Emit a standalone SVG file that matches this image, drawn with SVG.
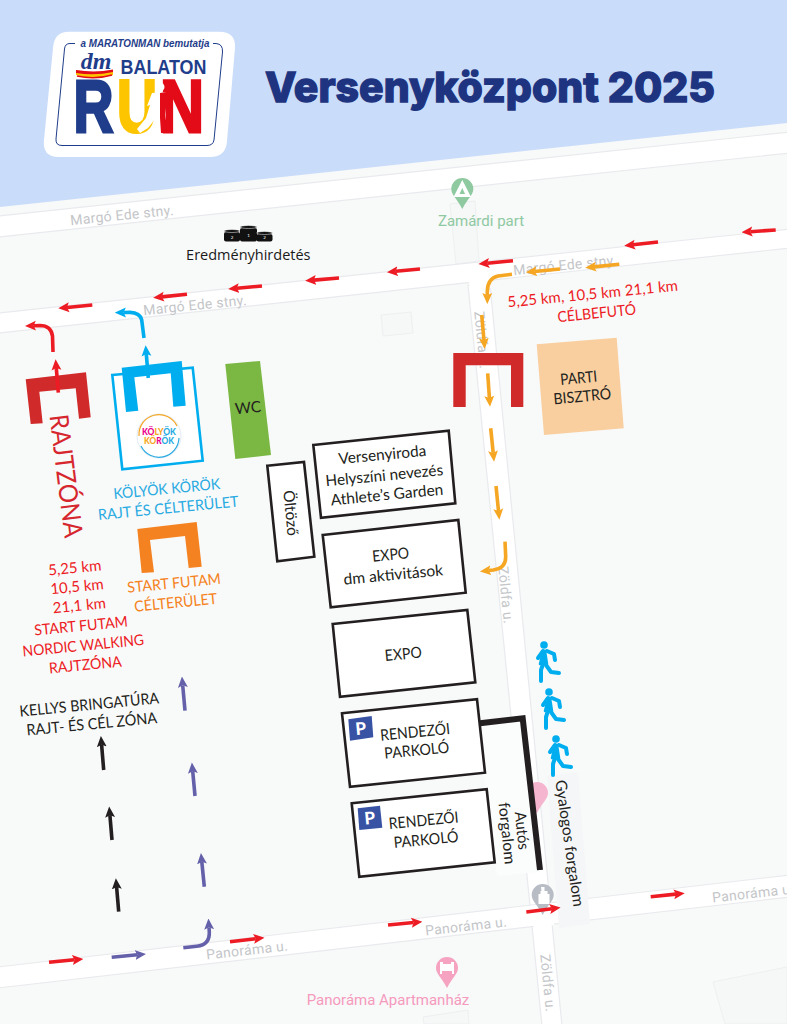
<svg xmlns="http://www.w3.org/2000/svg" width="787" height="1024" viewBox="0 0 787 1024">
<style>
text{font-family:"Lato","Open Sans","Liberation Sans",sans-serif;text-anchor:middle}
.t{font-size:15.5px;fill:#231f20}
.rd{font-size:15px;fill:#ed1c24}
.bl{font-size:15px;fill:#29abe2}
.or{font-size:15px;fill:#f58220}
.map{font-family:"Roboto","Liberation Sans",sans-serif;font-size:14px;fill:#c4c6c9;letter-spacing:.3px}
.road{fill:#fff;stroke:#e9eaed;stroke-width:1.2}
.bld{fill:#f6f7f7;stroke:#eeeff0;stroke-width:1}
.box{fill:#fff;stroke:#231f20;stroke-width:2.6}
.arw{fill:none;stroke-width:3.6}
.red{stroke:#ed1c24}.org{stroke:#f5a623}.pur{stroke:#6460aa}.blk{stroke:#231f20}.sky{stroke:#00aeef}
.m{fill:none;stroke:#00aeef;stroke-width:4;stroke-linecap:round;stroke-linejoin:round}
.lg{font-family:"Liberation Sans",sans-serif;font-weight:700}
</style>
<defs>
<marker id="hr" viewBox="0 -5 10 10" refX="2" refY="0" markerUnits="userSpaceOnUse" markerWidth="11" markerHeight="11" orient="auto"><path d="M0,-4.5L10,0L0,4.5L2,0z" fill="#ed1c24"/></marker>
<marker id="ho" viewBox="0 -5 10 10" refX="2" refY="0" markerUnits="userSpaceOnUse" markerWidth="11" markerHeight="11" orient="auto"><path d="M0,-4.5L10,0L0,4.5L2,0z" fill="#f5a623"/></marker>
<marker id="hp" viewBox="0 -5 10 10" refX="2" refY="0" markerUnits="userSpaceOnUse" markerWidth="11" markerHeight="11" orient="auto"><path d="M0,-4.5L10,0L0,4.5L2,0z" fill="#6460aa"/></marker>
<marker id="hk" viewBox="0 -5 10 10" refX="2" refY="0" markerUnits="userSpaceOnUse" markerWidth="11" markerHeight="11" orient="auto"><path d="M0,-4.5L10,0L0,4.5L2,0z" fill="#231f20"/></marker>
<marker id="hs" viewBox="0 -5 10 10" refX="2" refY="0" markerUnits="userSpaceOnUse" markerWidth="11" markerHeight="11" orient="auto"><path d="M0,-4.5L10,0L0,4.5L2,0z" fill="#00aeef"/></marker>
<g id="runner">
<circle cx="-4" cy="-16" r="3.8" fill="#00aeef"/>
<path d="M-5,-10L-3,-10L-1,3L-8,3z" fill="#00aeef" stroke="#00aeef" stroke-width="2.5" stroke-linejoin="round"/>
<path class="m" d="M-5,-10L-10,-3"/>
<path class="m" d="M-1,-10L6,-7L7,-1"/>
<path class="m" d="M-5,3L-7,9L-7,20"/>
<path class="m" d="M-2,4L3,11L11,12"/>
</g>
<path id="pin" d="M-11,-9a11,11 0 1 1 22,0c0,6 -6,10 -11,20c-5,-10 -11,-14 -11,-20z"/>
</defs>

<rect width="787" height="1024" fill="#f8f9f9"/>
<polygon points="0,0 787,0 787,123 0,207" fill="#c9dcf9"/>

<g id="map-base">
<polygon class="bld" points="450,204 475,201 479,261 456,264"/>
<polygon class="bld" points="381,315 411,312 413,333 383,336"/>
<polygon class="bld" points="713,982 787,967 787,1024 725,1024"/>
<polygon class="bld" points="423,1017 468,1010 469,1024 424,1024"/>
<polygon class="road" points="-2,216 790,132 790,153 -2,237"/>
<polygon class="road" points="-2,313 790,229 790,248 -2,333"/>
<polygon class="road" points="468,285 490,285 562,1026 542,1026"/>
<polygon class="road" points="-2,967 790,875 790,897 -2,988"/>
<polygon points="469,280 489,278 491,288 470,290" fill="#fff"/>
<polygon points="530,906 551,903.500 554,925 534,928" fill="#fff"/>
<use href="#pin" transform="translate(537 802)" fill="#f6b5cf"/>
<polygon points="477,725 522,720 540,872 497,876" fill="#fbfcfc"/>
<polygon points="547,776 578,772 590,924 559,928" fill="#f5f6f8"/>
<text class="map" transform="translate(122 215) rotate(-5.7)" y="5">Margó Ede stny.</text>
<text class="map" transform="translate(195 305) rotate(-5.7)" y="5">Margó Ede stny.</text>
<text class="map" transform="translate(565 265) rotate(-5.7)" y="5">Margó Ede stny.</text>
<text class="map" transform="translate(247 950) rotate(-6.5)" y="5">Panoráma u.</text>
<text class="map" transform="translate(466 926) rotate(-6.5)" y="5">Panoráma u.</text>
<text class="map" transform="translate(753 893) rotate(-6.5)" y="5">Panoráma u.</text>
<text class="map" transform="translate(482 340) rotate(84.3)" y="5">Zöldfa u.</text>
<text class="map" transform="translate(506 595) rotate(84.3)" y="5">Zöldfa u.</text>
<text class="map" transform="translate(548 983) rotate(84.3)" y="5">Zöldfa u.</text>
<use href="#pin" transform="translate(462.3 198)" fill="#8ec9a0"/>
<polygon points="462.3,180 471,197 453.5,197" fill="#fff"/>
<polygon points="462.3,188 465,194 459.5,194" fill="#8ec9a0"/>
<text x="481" y="226" style="font-family:'Roboto','Liberation Sans',sans-serif;font-size:15px;fill:#8fc9a2">Zamárdi part</text>
<use href="#pin" transform="translate(447 977)" fill="#f6a3c2"/>
<path d="M440,962h3v2h8v-2h3v12h-2v-3h-10v3h-2z" fill="#fff"/>
<text x="388" y="1005" style="font-family:'Roboto','Liberation Sans',sans-serif;font-size:15px;fill:#f59abd">Panoráma Apartmanház</text>
<use href="#pin" transform="translate(542.7 904)" fill="#b8bcc4"/>
<path d="M541,887h3.5v4h3v3h2v10h-11v-10h2v-3h1z" fill="#fff"/>
</g>

<g id="logo">
<path d="M69,31.700H219Q236,31.700 235,48L227,141Q226,157 210,157H59Q42,157 44,140L53,48Q54,31.700 69,31.700z" fill="#fff"/>
<path d="M75,43.500H70Q65,43.500 64.500,49L56,139Q55.500,145.500 62,145.500H207Q213,145.500 214,140L222.500,52Q223,44 216,43.500H213" fill="none" stroke="#1f3d8a" stroke-width="1"/>
<text class="lg" x="145" y="46.500" font-size="10.500" font-style="italic" fill="#1f3d8a" textLength="129" lengthAdjust="spacingAndGlyphs">a MARATONMAN bemutatja</text>
<text x="96" y="69" font-size="24" font-style="italic" font-weight="700" fill="#1f3d8a" style="font-family:'Liberation Serif',serif">dm</text>
<text class="lg" x="163.500" y="74" font-size="20" fill="#1f3d8a" textLength="86" lengthAdjust="spacingAndGlyphs">BALATON</text>
<path d="M76,70Q95,76 113,70V75Q95,81 76,75z" fill="#fdc500"/>
<path d="M76,70Q95,73 113,69.500V72Q95,76 76,73z" fill="#e30b17"/>
<path d="M77,76Q95,80 112,75" fill="none" stroke="#e30b17" stroke-width="1.500"/>
<text class="lg" x="93.500" y="132" font-size="74" fill="#1f3d8a" stroke="#1f3d8a" stroke-width="3" textLength="40" lengthAdjust="spacingAndGlyphs">R</text>
<text class="lg" x="137" y="132" font-size="74" fill="#fdc500" stroke="#fdc500" stroke-width="3" textLength="40" lengthAdjust="spacingAndGlyphs">U</text>
<text class="lg" x="182" y="132" font-size="74" fill="#e30b17" stroke="#e30b17" stroke-width="3" textLength="44" lengthAdjust="spacingAndGlyphs">N</text>
<circle cx="160" cy="87" r="4.500" fill="#fff"/>
<path d="M152,93L166,92L166,114L163,133L157,133L156,118L148,128L140,133L137,129L146,118L150,105L147,106z" fill="#fff"/>
<path d="M160,93L166,92L170,104L166,108L165,120L167,133L161,133L160,118z" fill="#e30b17"/>
</g>

<text id="title" x="265" y="102" font-size="41" font-weight="800" fill="#1e3480" stroke="#1e3480" stroke-width="1.300" textLength="450" lengthAdjust="spacingAndGlyphs" style="font-family:'Inter','Liberation Sans',sans-serif;text-anchor:start">Versenyközpont 2025</text>

<g id="eredmeny">
<rect x="224" y="232" width="16" height="9.500" rx="2" fill="#111"/>
<rect x="256.500" y="234" width="16" height="7.500" rx="2" fill="#111"/>
<rect x="240" y="228" width="17" height="13.500" rx="2" fill="#111"/>
<ellipse cx="232" cy="231" rx="8" ry="1.500" fill="#111" stroke="#fff" stroke-width=".5"/>
<ellipse cx="248.500" cy="227" rx="8.500" ry="1.500" fill="#111" stroke="#fff" stroke-width=".5"/>
<ellipse cx="264.500" cy="233" rx="8" ry="1.500" fill="#111" stroke="#fff" stroke-width=".5"/>
<text x="232" y="239" font-size="4.500" fill="#fff">2</text>
<text x="248.500" y="237" font-size="4.500" fill="#fff">1</text>
<text x="264.500" y="239" font-size="4.500" fill="#fff">2</text>
<text x="248.300" y="259.500" style="font-family:'Open Sans','Liberation Sans',sans-serif;font-size:14.500px;fill:#1a1a1a">Eredményhirdetés</text>
</g>

<g id="connectors">
<path class="arw red" marker-end="url(#hr)" d="M775.700,230L750.300,231.700"/>
<path class="arw red" marker-end="url(#hr)" d="M658,242L632.900,244.800"/>
<path class="arw red" marker-end="url(#hr)" d="M513,260.700L487.200,263.200"/>
<path class="arw red" marker-end="url(#hr)" d="M420,269L395.700,271.300"/>
<path class="arw red" marker-end="url(#hr)" d="M339,278L313.900,280.100"/>
<path class="arw red" marker-end="url(#hr)" d="M262,286L236.900,288.300"/>
<path class="arw red" marker-end="url(#hr)" d="M187,294.300L161.900,296.900"/>
<path class="arw red" marker-end="url(#hr)" d="M92.300,305L67,307.500"/>
<path class="arw red" marker-end="url(#hr)" d="M49,962.300L74.600,959.800"/>
<path class="arw red" marker-end="url(#hr)" d="M230,941.700L255.800,938.700"/>
<path class="arw red" marker-end="url(#hr)" d="M388,925L413.600,922.500"/>
<path class="arw red" marker-end="url(#hr)" d="M526.300,912L551.900,908.700"/>
<path class="arw red" marker-end="url(#hr)" d="M650.700,896.700L676,894.100"/>
<path class="arw red" marker-end="url(#hr)" d="M53,352L52.500,336Q51,325.500 40,325.500L33.700,325.700"/>
<path class="arw org" marker-end="url(#ho)" d="M619.300,264.300L594,266.900"/>
<path class="arw org" marker-end="url(#ho)" d="M560,269L534.700,271.500"/>
<path class="arw org" marker-end="url(#ho)" d="M512,274.300L498.300,276Q487.300,278.300 487.300,291.700L487.300,295.300"/>
<path class="arw org" marker-end="url(#ho)" d="M481.700,315L484,340.300"/>
<path class="arw org" marker-end="url(#ho)" d="M487.700,373.300L489.400,398"/>
<path class="arw org" marker-end="url(#ho)" d="M490.700,428.300L493.200,452.900"/>
<path class="arw org" marker-end="url(#ho)" d="M496,486L498.500,511"/>
<path class="arw org" marker-end="url(#ho)" d="M505,541.700L505.700,556.700Q506,568.300 493.300,570L488.700,570.500"/>
<path class="arw pur" marker-end="url(#hp)" d="M185,710.700L182.700,685.300"/>
<path class="arw pur" marker-end="url(#hp)" d="M195,796L192.700,771.200"/>
<path class="arw pur" marker-end="url(#hp)" d="M204.300,886.700L201.800,861.800"/>
<path class="arw pur" marker-end="url(#hp)" d="M111.700,957.300L137.300,954.800"/>
<path class="arw pur" marker-end="url(#hp)" d="M183.300,947.700L196.700,946.300Q210,945 209.300,931.700L209,927.300"/>
<path class="arw blk" marker-end="url(#hk)" d="M103.700,770L101.600,744.700"/>
<path class="arw blk" marker-end="url(#hk)" d="M112,840L109.900,815.200"/>
<path class="arw blk" marker-end="url(#hk)" d="M118.700,911.700L116.600,886.900"/>
<path class="arw sky" marker-end="url(#hs)" d="M144,338L141.700,320Q140,312.700 130,312.400L123.700,312.500"/>
<path d="M480,723.300L522.700,718.300L540,870" fill="none" stroke="#231f20" stroke-width="6"/>
</g>

<g id="rajtzona">
<polygon points="25.700,379.300 86,372.300 90.700,417.300 79,418.700 75.700,388.300 39.300,391.700 42.700,423.300 30.700,424" fill="#d12a2a"/>
<path class="arw red" marker-end="url(#hr)" d="M58.300,392.700L56.300,368"/>
<text transform="translate(66 476) rotate(83)" y="9" font-size="26" fill="#d6262e" textLength="124" lengthAdjust="spacingAndGlyphs">RAJTZÓNA</text>
<text class="rd" transform="translate(74.700 568) rotate(-5.500)" y="5">5,25 km</text>
<text class="rd" transform="translate(77 586.700) rotate(-5.500)" y="5">10,5 km</text>
<text class="rd" transform="translate(79.300 605.700) rotate(-5.500)" y="5">21,1 km</text>
<text class="rd" transform="translate(81 626) rotate(-5.500)" y="5" textLength="94" lengthAdjust="spacingAndGlyphs">START FUTAM</text>
<text class="rd" transform="translate(83.300 645.700) rotate(-5.500)" y="5" textLength="122" lengthAdjust="spacingAndGlyphs">NORDIC WALKING</text>
<text class="rd" transform="translate(85.300 665) rotate(-5.500)" y="5" textLength="73" lengthAdjust="spacingAndGlyphs">RAJTZÓNA</text>
</g>

<g id="kolyok-korok">
<polygon points="112.300,375 192.700,367.700 202.700,460.700 122.300,469.300" fill="#fff" stroke="#00aeef" stroke-width="2.600"/>
<polygon points="121.700,367.700 181.700,361 185.700,405.700 173.300,406.700 170.700,373.300 134.300,377.300 138.300,410.700 126,412" fill="#00aeef"/>
<path class="arw sky" marker-end="url(#hs)" d="M148.300,378L146.300,354"/>
<circle cx="159" cy="436" r="22" fill="#fff" stroke="#d9e6ef" stroke-width=".8"/>
<path d="M139,436A20,20 0 0 1 177,426" fill="none" stroke="#f5a623" stroke-width="1.200"/>
<path d="M141,446A20,20 0 0 0 179,438" fill="none" stroke="#29abe2" stroke-width="1.200"/>
<text x="159" y="435" font-size="8.500" font-weight="900" textLength="34" lengthAdjust="spacingAndGlyphs"><tspan fill="#ec008c">KÖ</tspan><tspan fill="#f5a623">LY</tspan><tspan fill="#29abe2">ÖK</tspan></text>
<text x="159" y="444" font-size="8.500" font-weight="900" textLength="30" lengthAdjust="spacingAndGlyphs"><tspan fill="#f5a623">KÖ</tspan><tspan fill="#ec008c">R</tspan><tspan fill="#29abe2">ÖK</tspan></text>
<text class="bl" transform="translate(166.700 489) rotate(-5.500)" y="5" textLength="107" lengthAdjust="spacingAndGlyphs">KÖLYÖK KÖRÖK</text>
<text class="bl" transform="translate(168.300 508.300) rotate(-5.500)" y="5" textLength="141" lengthAdjust="spacingAndGlyphs">RAJT ÉS CÉLTERÜLET</text>
</g>

<g id="start-futam">
<polygon points="137.300,529 196.700,522 201.700,566.700 188.700,568 185,536 150,540 154,572.300 141.700,573" fill="#f58220"/>
<text class="or" transform="translate(174 583.300) rotate(-5.500)" y="5" textLength="94" lengthAdjust="spacingAndGlyphs">START FUTAM</text>
<text class="or" transform="translate(175.700 602.700) rotate(-5.500)" y="5" textLength="83" lengthAdjust="spacingAndGlyphs">CÉLTERÜLET</text>
</g>

<g id="kellys">
<text class="t" transform="translate(89.300 705) rotate(-5.500)" y="5" textLength="140" lengthAdjust="spacingAndGlyphs">KELLYS BRINGATÚRA</text>
<text class="t" transform="translate(91.700 724.300) rotate(-5.500)" y="5" textLength="131" lengthAdjust="spacingAndGlyphs">RAJT- ÉS CÉL ZÓNA</text>
</g>

<g id="wc">
<polygon points="225.300,364 260,361 271,455 235.300,459" fill="#7ab843"/>
<text class="t" transform="translate(248 408) rotate(-5.500)" y="5">WC</text>
</g>

<g id="oltozo">
<polygon class="box" points="267.300,465.700 304,462 314.300,556.700 277.300,561.300"/>
<text class="t" transform="translate(290.500 513) rotate(84.500)" y="5">Öltöző</text>
</g>

<g id="versenyiroda">
<polygon class="box" points="313.300,445 448.700,430.700 455.300,503.300 321,517.700"/>
<text class="t" transform="translate(382.300 455) rotate(-5.500)" y="5" textLength="88" lengthAdjust="spacingAndGlyphs">Versenyiroda</text>
<text class="t" transform="translate(384.300 475.700) rotate(-5.500)" y="5" textLength="118" lengthAdjust="spacingAndGlyphs">Helyszíni nevezés</text>
<text class="t" transform="translate(387 495) rotate(-5.500)" y="5" textLength="113" lengthAdjust="spacingAndGlyphs">Athlete’s Garden</text>
</g>

<g id="expo-dm">
<polygon class="box" points="322.700,535 458.300,520 465.700,592.700 330.700,607.300"/>
<text class="t" transform="translate(390.700 555) rotate(-5.500)" y="5" textLength="37" lengthAdjust="spacingAndGlyphs">EXPO</text>
<text class="t" transform="translate(393.300 575) rotate(-5.500)" y="5" textLength="100" lengthAdjust="spacingAndGlyphs">dm aktivitások</text>
</g>

<g id="expo">
<polygon class="box" points="332.700,624 467.300,610 475.300,682.300 340,696.700"/>
<text class="t" transform="translate(403.300 654.300) rotate(-5.500)" y="5" textLength="37" lengthAdjust="spacingAndGlyphs">EXPO</text>
</g>

<g id="parkolo-1">
<polygon class="box" points="342,713.300 477,699.300 485,772.700 350,786.700"/>
<polygon points="348.300,719.300 371.700,716 373.300,737.300 350,740.700" fill="#3853a4"/>
<text transform="translate(360.800 728.500) rotate(-5.500)" y="6" font-size="17" font-weight="900" fill="#fff">P</text>
<text class="t" transform="translate(415 732.300) rotate(-5.500)" y="5" textLength="70" lengthAdjust="spacingAndGlyphs">RENDEZŐI</text>
<text class="t" transform="translate(416.700 750.700) rotate(-5.500)" y="5" textLength="65" lengthAdjust="spacingAndGlyphs">PARKOLÓ</text>
</g>

<g id="parkolo-2">
<polygon class="box" points="351.700,803.300 486.700,789.300 494.700,862.300 359.300,876.700"/>
<polygon points="357.700,808.300 380,805.700 382.300,827.700 359.300,830" fill="#3853a4"/>
<text transform="translate(369.800 818) rotate(-5.500)" y="6" font-size="17" font-weight="900" fill="#fff">P</text>
<text class="t" transform="translate(423.700 820.700) rotate(-5.500)" y="5" textLength="70" lengthAdjust="spacingAndGlyphs">RENDEZŐI</text>
<text class="t" transform="translate(426 840) rotate(-5.500)" y="5" textLength="65" lengthAdjust="spacingAndGlyphs">PARKOLÓ</text>
</g>

<g id="autos">
<text class="t" transform="translate(521.700 830.700) rotate(84)" y="5" textLength="38" lengthAdjust="spacingAndGlyphs">Autós</text>
<text class="t" transform="translate(506.700 833.300) rotate(84)" y="5" textLength="62" lengthAdjust="spacingAndGlyphs">forgalom</text>
</g>

<g id="gyalogos">
<use href="#runner" transform="translate(548 661)"/>
<use href="#runner" transform="translate(553 708)"/>
<use href="#runner" transform="translate(560 755)"/>
<text class="t" transform="translate(569.300 843.300) rotate(81.800)" y="5" textLength="128" lengthAdjust="spacingAndGlyphs">Gyalogos forgalom</text>
</g>

<g id="parti-bisztro">
<polygon points="536.700,344.300 616.700,337.700 623.700,428.300 544,435" fill="#f9cf9f"/>
<text class="t" transform="translate(578.700 378.300) rotate(-5.500)" y="5" textLength="37" lengthAdjust="spacingAndGlyphs">PARTI</text>
<text class="t" transform="translate(582.300 396.700) rotate(-5.500)" y="5" textLength="58" lengthAdjust="spacingAndGlyphs">BISZTRÓ</text>
</g>

<g id="celbefuto">
<polygon points="453.300,353 523.300,353 523.300,407 511,407 511,365.300 465.700,365.300 465.700,407 453.300,407" fill="#d12a2a"/>
<text class="rd" transform="translate(592.700 294) rotate(-5.600)" y="5">5,25 km, 10,5 km 21,1 km</text>
<text class="rd" transform="translate(596.700 313.300) rotate(-5.600)" y="5" textLength="79" lengthAdjust="spacingAndGlyphs">CÉLBEFUTÓ</text>
</g>
</svg>
